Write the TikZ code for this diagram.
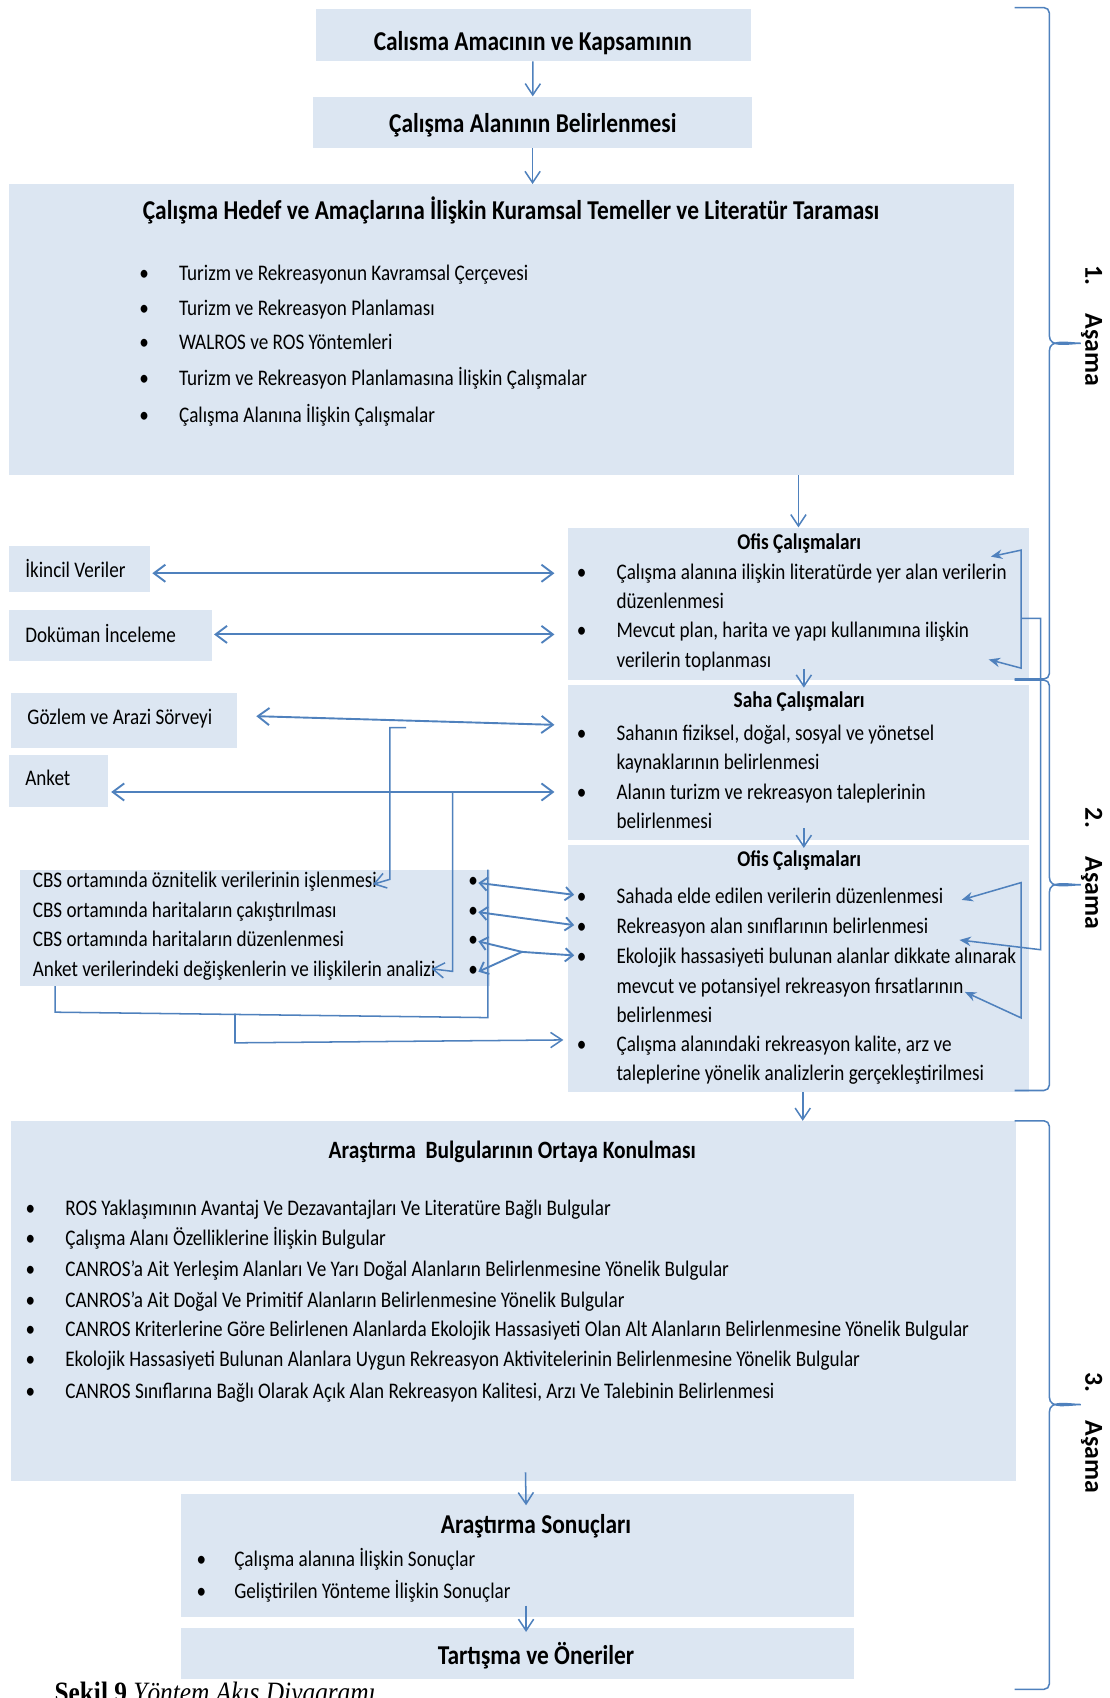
\documentclass[tikz,border=0pt]{standalone}
\usepackage{fontspec}
\setmainfont{Carlito}[FakeStretch=0.86]
\newfontfamily\duzfont{Carlito}
\newfontfamily\sekilfont{Liberation Serif}[FakeStretch=0.86]
\usetikzlibrary{arrows.meta,calc}
\definecolor{kutumavi}{RGB}{220,230,242}
\definecolor{okmavi}{RGB}{79,129,189}
\tikzset{
  kutu/.style 2 args={fill=kutumavi, inner sep=0pt, anchor=north west,
    minimum width=#1, minimum height=#2},
  baslik/.style={font=\fontsize{14.3}{17}\selectfont\bfseries, anchor=base, inner sep=0pt},
  altbaslik/.style={font=\fontsize{11.8}{14}\selectfont\bfseries, anchor=base, inner sep=0pt},
  madde/.style={font=\fontsize{11.7}{14}\selectfont, anchor=base west, inner sep=0pt},
  nokta/.style={font=\fontsize{11.7}{14}\selectfont, anchor=base, inner sep=0pt},
  ok/.style={draw=okmavi, line width=0.8pt, -{Straight Barb[length=6pt,width=8pt]}},
  cift/.style={draw=okmavi, line width=1pt,
    {Straight Barb[length=6pt,width=9pt]}-{Straight Barb[length=6pt,width=9pt]}},
  kisa/.style={draw=okmavi, line width=1pt, -{Straight Barb[length=4pt,width=7pt]}},
  cizgi/.style={draw=okmavi, line width=0.8pt},
  geri/.style={draw=okmavi, line width=0.8pt},
  ayrac/.style={draw=okmavi, line width=0.8pt},
  asama/.style={font=\duzfont\fontsize{13.6}{16}\selectfont\bfseries, rotate=-90},
}
\begin{document}
\begin{tikzpicture}[x=0.02cm, y=-0.02cm]
\useasboundingbox (0,0) rectangle (1025,1568);

% kutular
\node[kutu={8.04cm}{0.96cm}] (amac) at (291,8) {};
\node[kutu={8.10cm}{0.94cm}] (alan) at (289,89) {};
\node[kutu={18.56cm}{5.36cm}] (kuram) at (8,170) {};
\node[kutu={8.52cm}{2.82cm}] (ofis1) at (524,487) {};
\node[kutu={8.52cm}{2.86cm}] (saha) at (524,632) {};
\node[kutu={8.52cm}{4.56cm}] (ofis2) at (524,780) {};
\node[kutu={2.60cm}{0.84cm}] (ikincil) at (8,504) {};
\node[kutu={3.74cm}{0.94cm}] (dokuman) at (8,563) {};
\node[kutu={4.18cm}{1.00cm}] (gozlem) at (10,640) {};
\node[kutu={1.82cm}{0.96cm}] (anket) at (8,697) {};
\node[kutu={8.68cm}{2.14cm}] (cbs) at (18,803) {};
\node[kutu={18.56cm}{6.64cm}] (bulgu) at (10,1035) {};
\node[kutu={12.42cm}{2.28cm}] (sonuc) at (167,1379) {};
\node[kutu={12.42cm}{0.94cm}] (tartisma) at (167,1503) {};

% basliklar
\node[baslik] (amacY) at (492,47) {Calısma Amacının ve Kapsamının};
\node[baslik] (alanY) at (492,122) {Çalışma Alanının Belirlenmesi};
\node[baslik] (kuramY) at (472,203) {Çalışma Hedef ve Amaçlarına İlişkin Kuramsal Temeller ve Literatür Taraması};
\node[altbaslik] (ofis1Y) at (738,507) {Ofis Çalışmaları};
\node[altbaslik] (sahaY) at (738,653) {Saha Çalışmaları};
\node[altbaslik] (ofis2Y) at (738,800) {Ofis Çalışmaları};
\node[baslik, font=\fontsize{13.1}{16}\selectfont\bfseries] (bulguY) at (473,1070) {Araştırma~ Bulgularının Ortaya Konulması};
\node[baslik] (sonucY) at (495,1416) {Araştırma Sonuçları};
\node[baslik] (tartismaY) at (495,1537) {Tartışma ve Öneriler};

% maddeler
\foreach \y/\metin [count=\i] in {259/{Turizm ve Rekreasyonun Kavramsal Çerçevesi},
    291/{Turizm ve Rekreasyon Planlaması}, 323/{WALROS ve ROS Yöntemleri},
    356/{Turizm ve Rekreasyon Planlamasına İlişkin Çalışmalar},
    390/{Çalışma Alanına İlişkin Çalışmalar}}{
  \node[nokta] (kn\i) at (133,\y) {•};
  \node[madde] (km\i) at (165,\y) {\metin};
}
\foreach \y/\metin [count=\i] in {535/{Çalışma alanına ilişkin literatürde yer alan verilerin},
    562/{düzenlenmesi}, 589/{Mevcut plan, harita ve yapı kullanımına ilişkin},
    616/{verilerin toplanması}}
  \node[madde] (o1m\i) at (569,\y) {\metin};
\foreach \y [count=\i] in {535,589}
  \node[nokta] (o1n\i) at (537,\y) {•};
\foreach \y/\metin [count=\i] in {684/{Sahanın fiziksel, doğal, sosyal ve yönetsel},
    711/{kaynaklarının belirlenmesi}, 738/{Alanın turizm ve rekreasyon taleplerinin},
    765/{belirlenmesi}}
  \node[madde] (sm\i) at (569,\y) {\metin};
\foreach \y [count=\i] in {684,738}
  \node[nokta] (sn\i) at (537,\y) {•};
\foreach \y/\metin [count=\i] in {834/{Sahada elde edilen verilerin düzenlenmesi},
    862/{Rekreasyon alan sınıflarının belirlenmesi},
    890/{Ekolojik hassasiyeti bulunan alanlar dikkate alınarak},
    917/{mevcut ve potansiyel rekreasyon fırsatlarının}, 944/{belirlenmesi},
    971/{Çalışma alanındaki rekreasyon kalite, arz ve},
    998/{taleplerine yönelik analizlerin gerçekleştirilmesi}}
  \node[madde] (o2m\i) at (569,\y) {\metin};
\foreach \y [count=\i] in {834,862,890,971}
  \node[nokta] (o2n\i) at (537,\y) {•};

\node[madde] (ikincilY) at (23,533) {İkincil Veriler};
\node[madde] (dokumanY) at (23,593) {Doküman İnceleme};
\node[madde] (gozlemY) at (25,669) {Gözlem ve Arazi Sörveyi};
\node[madde] (anketY) at (23,725) {Anket};

\foreach \y/\metin [count=\i] in {820/{CBS ortamında öznitelik verilerinin işlenmesi},
    847/{CBS ortamında haritaların çakıştırılması},
    874/{CBS ortamında haritaların düzenlenmesi},
    902/{Anket verilerindeki değişkenlerin ve ilişkilerin analizi}}{
  \node[madde] (cm\i) at (30,\y) {\metin};
  \node[nokta] (cn\i) at (437,\y) {•};
}

\foreach \y/\metin [count=\i] in {1122/{ROS Yaklaşımının Avantaj Ve Dezavantajları Ve Literatüre Bağlı Bulgular},
    1150/{Çalışma Alanı Özelliklerine İlişkin Bulgular},
    1179/{CANROS’a Ait Yerleşim Alanları Ve Yarı Doğal Alanların Belirlenmesine Yönelik Bulgular},
    1207/{CANROS’a Ait Doğal Ve Primitif Alanların Belirlenmesine Yönelik Bulgular},
    1234/{CANROS Kriterlerine Göre Belirlenen Alanlarda Ekolojik Hassasiyeti Olan Alt Alanların Belirlenmesine Yönelik Bulgular},
    1262/{Ekolojik Hassasiyeti Bulunan Alanlara Uygun Rekreasyon Aktivitelerinin Belirlenmesine Yönelik Bulgular},
    1291/{CANROS Sınıflarına Bağlı Olarak Açık Alan Rekreasyon Kalitesi, Arzı Ve Talebinin Belirlenmesi}}{
  \node[nokta] (bn\i) at (28,\y) {•};
  \node[madde] (bm\i) at (60,\y) {\metin};
}
\foreach \y/\metin [count=\i] in {1447/{Çalışma alanına İlişkin Sonuçlar},
    1476/{Geliştirilen Yönteme İlişkin Sonuçlar}}{
  \node[nokta] (sonn\i) at (186,\y) {•};
  \node[madde] (sonm\i) at (216,\y) {\metin};
}

% akis oklari
\draw[ok] (amac) -- (alan);
\draw[ok] (alan.south) -- (alan.south |- kuram.north);
\draw[ok] (ofis1.north |- kuram.south) -- (ofis1.north);
\draw[ok] ($(ofis1.south)+(5,-11)$) -- ($(saha.north)+(5,3)$);
\draw[ok] ($(saha.south)+(5,-11)$) -- ($(ofis2.north)+(5,3)$);
\draw[ok] ($(ofis2.south)+(4,0)$) -- ($(bulgu.north -| ofis2.south)+(4,0)$);
\draw[ok] ($(bulgu.south)+(11,-8)$) -- ($(sonuc.north)+(8,11)$);
\draw[ok] ($(sonuc.south)+(8,-11)$) -- ($(tartisma.north)+(8,4)$);

% veri kaynaklari
\draw[cift] ($(ikincil.east)+(2,4)$) -- ($(ofis1.west |- ikincil.east)+(-12,4)$);
\draw[cift] ($(dokuman.east)+(2,-1)$) -- ($(ofis1.west |- dokuman.east)+(-12,-1)$);
\draw[cift] ($(gozlem.east)+(17,-4)$) -- ($(saha.west |- gozlem.east)+(-12,4)$);
\draw[cift] ($(anket.east)+(3,10)$) -- ($(saha.west |- anket.east)+(-12,10)$);

% CBS baglantilari
\coordinate (g1) at (375,672);
\coordinate (a1) at (418,731);
\draw[ok] (g1) -- (360,672) -- (360,812) -- ($(cm1.east)+(-4,2)$);
\draw[ok] (a1) -- (418,897) -- ($(cm4.east)+(-4,-2)$);
\draw[cift, {Straight Barb[length=4pt,width=7pt]}-{Straight Barb[length=4pt,width=7pt]}] (cn1.east) -- ($(o2n1.west)+(-2,-3)$);
\draw[cift, {Straight Barb[length=4pt,width=7pt]}-{Straight Barb[length=4pt,width=7pt]}] (cn2.east) -- ($(o2n2.west)+(-2,-3)$);
\coordinate (kavsak) at (482,879);
\draw[kisa] (kavsak) -- (cn3.east);
\draw[kisa] (kavsak) -- (cn4.east);
\draw[kisa] (kavsak) -- ($(o2n3.west)+(-2,-3)$);
\draw[cizgi] ($(cbs.north east)+(-2,0)$) -- ($(cbs.south east)+(-2,29)$)
  -- ($(cbs.south west)+(33,24)$) -- ($(cbs.south west)+(33,0)$);
\coordinate (c1) at (217,936);
\draw[ok] (c1) -- (217,963) -- ($(o2n4.west)+(-12,-6)$);

% geri besleme
\draw[geri, {Stealth[length=6pt,width=5pt]}-{Stealth[length=6pt,width=5pt]}]
  (915,514) -- (943,508) -- (943,617) -- (913,609);
\draw[geri, -{Stealth[length=6pt,width=5pt]}] (943,571) -- (961,571) -- (961,877) -- (886,868);
\draw[geri, {Stealth[length=6pt,width=5pt]}-{Stealth[length=6pt,width=5pt]}]
  (888,831) -- (943,815) -- (943,940) -- (891,916);

% asamalar
\foreach \ust/\alt/\orta/\etiket/\no in {7/627/317/301/1, 628/1007/817/802/2, 1035/1560/1297/1323/3}{
  \draw[ayrac] (937,\ust) -- (964,\ust) to[out=0,in=90] (969,\ust+5) -- (969,\orta-7)
    to[out=-90,in=180] (998,\orta) to[out=180,in=90] (969,\orta+7) -- (969,\alt-5)
    to[out=-90,in=0] (964,\alt) -- (937,\alt);
  \node[asama] (asama\no) at (1008,\etiket) {\no.\hspace{1.1em}Aşama};
}

\node[anchor=base west, inner sep=0pt, font=\sekilfont\fontsize{15.5}{18}\selectfont] (sekil) at (50,1572)
  {\textbf{Şekil 9} \textit{Yöntem Akış Diyagramı}};
\end{tikzpicture}
\end{document}
